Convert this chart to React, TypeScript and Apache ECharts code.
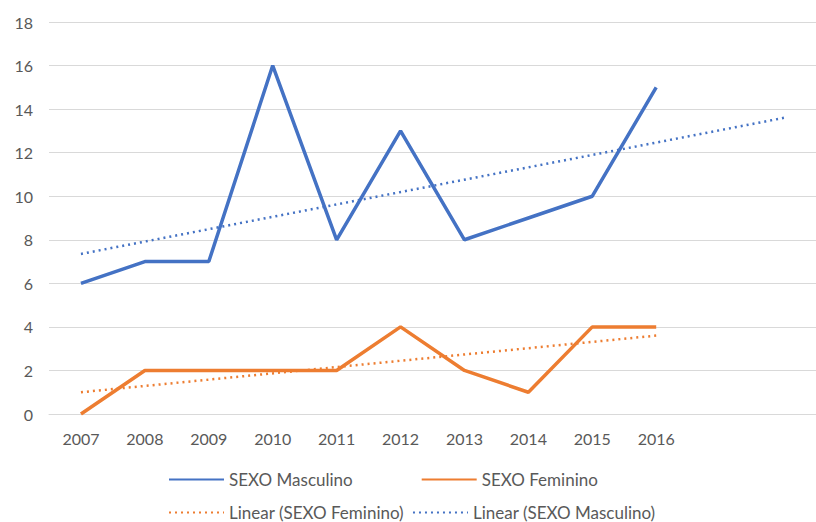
import React, { useEffect, useRef } from "react";
import * as echarts from "echarts";

const categories = ["2007", "2008", "2009", "2010", "2011", "2012", "2013", "2014", "2015", "2016", "", ""];
const masculino = [6, 7, 7, 16, 8, 13, 8, 9, 10, 15, null, null];
const feminino = [0, 2, 2, 2, 2, 4, 2, 1, 4, 4, null, null];
// linear trend end points
const trendMasculino = [7.35, null, null, null, null, null, null, null, null, null, null, 13.6];
const trendFeminino = [1.0, null, null, null, null, null, null, null, null, 3.6, null, null];
const yTicks = { min: 0, max: 18, interval: 2 };

const BLUE = "#4472C4";
const ORANGE = "#ED7D31";
const FONT = "Lato";
const TEXT = "#595959";

export default function App() {
  const ref = useRef<HTMLDivElement>(null);
  useEffect(() => {
    if (!ref.current) return;
    const chart = echarts.init(ref.current, undefined, { renderer: "svg" });
    const legendCommon = {
      itemWidth: 55,
      itemHeight: 14,
      itemStyle: { opacity: 0 },
      textStyle: { color: TEXT, fontFamily: FONT, fontSize: 17 },
    };
    chart.setOption({
      animation: false,
      backgroundColor: "#ffffff",
      textStyle: { fontFamily: FONT, color: TEXT },
      grid: { left: 49, top: 22, width: 774, height: 392, containLabel: false },
      xAxis: {
        type: "category",
        data: categories,
        boundaryGap: true,
        axisLine: { show: true, lineStyle: { color: "#d9d9d9", width: 1 } },
        axisTick: { show: false },
        axisLabel: { color: TEXT, fontFamily: FONT, fontSize: 16, margin: 16 },
        splitLine: { show: false },
      },
      yAxis: {
        type: "value",
        min: yTicks.min,
        max: yTicks.max,
        interval: yTicks.interval,
        axisLine: { show: false },
        axisTick: { show: false },
        axisLabel: { color: TEXT, fontFamily: FONT, fontSize: 16, margin: 16 },
        splitLine: { lineStyle: { color: "#d9d9d9", width: 1 } },
      },
      legend: [
        {
          ...legendCommon,
          data: ["SEXO Masculino", "SEXO Feminino"],
          left: 163,
          top: 466,
          itemGap: 68,
        },
        {
          ...legendCommon,
          data: ["Linear (SEXO Feminino)", "Linear (SEXO Masculino)"],
          left: 163,
          top: 499,
          itemGap: 8,
        },
      ],
      series: [
        {
          name: "SEXO Masculino",
          type: "line",
          data: masculino,
          symbol: "none",
          lineStyle: { color: BLUE, width: 3.5 },
          itemStyle: { color: BLUE },
          z: 3,
        },
        {
          name: "SEXO Feminino",
          type: "line",
          data: feminino,
          symbol: "none",
          lineStyle: { color: ORANGE, width: 3.5 },
          itemStyle: { color: ORANGE },
          z: 3,
        },
        {
          name: "Linear (SEXO Feminino)",
          type: "line",
          data: trendFeminino,
          connectNulls: true,
          symbol: "none",
          lineStyle: { color: ORANGE, width: 2.5, type: [2, 4] },
          itemStyle: { color: ORANGE },
          z: 2,
        },
        {
          name: "Linear (SEXO Masculino)",
          type: "line",
          data: trendMasculino,
          connectNulls: true,
          symbol: "none",
          lineStyle: { color: BLUE, width: 2.5, type: [2, 4] },
          itemStyle: { color: BLUE },
          z: 2,
        },
      ],
    });
    return () => chart.dispose();
  }, []);
  return (
    <div
      ref={ref}
      style={{ position: "absolute", left: 0, top: 0, width: 816, height: 522 }}
    />
  );
}
